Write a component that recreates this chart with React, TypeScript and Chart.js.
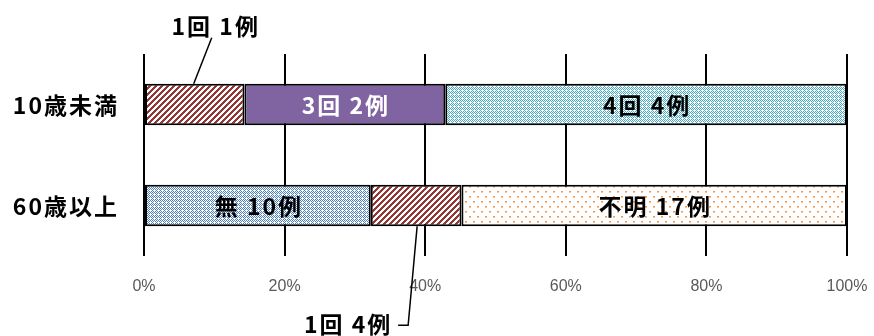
import React, { useEffect, useRef } from 'react';
import { Chart, registerables } from 'chart.js';

Chart.register(...registerables);

const categories = ['10歳未満', '60歳以上'];
const under10Counts = [1, 2, 4];
const under10Labels = ['1回 1例', '3回 2例', '4回 4例'];
const over60Counts = [10, 4, 17];
const over60Labels = ['無 10例', '1回 4例', '不明 17例'];
const xTickValues = [0, 20, 40, 60, 80, 100];

const RED = '#953735';
const PURPLE = '#8064A2';
const CYAN = '#4BACC6';
const BLUE = '#4F81BD';
const ORANGE = '#F79646';

function pattern(kind: string): CanvasPattern | string {
  const c = document.createElement('canvas');
  const w = kind === 'stripes' ? 6 : 8;
  const h = kind === 'stripes' ? 6 : kind === 'orange' ? 10 : 8;
  c.width = w;
  c.height = h;
  const g = c.getContext('2d');
  if (!g) return '#ccc';
  g.fillStyle = '#ffffff';
  g.fillRect(0, 0, w, h);
  if (kind === 'stripes') {
    g.fillStyle = RED;
    for (let x = 0; x < w; x++)
      for (let y = 0; y < h; y++) if ((x + y) % 6 < 3) g.fillRect(x, y, 1, 1);
  } else if (kind === 'cyan' || kind === 'blue') {
    g.fillStyle = kind === 'cyan' ? CYAN : BLUE;
    for (let x = 0; x < w; x++)
      for (let y = 0; y < h; y++) {
        const on = (x + y) % 2 === 0 && !(x % 4 === 2 && y % 4 === 2);
        if (on) g.fillRect(x, y, 1, 1);
      }
  } else if (kind === 'orange') {
    g.fillStyle = ORANGE;
    g.fillRect(1, 1, 2, 1);
    g.fillRect(5, 6, 2, 1);
    g.globalAlpha = 0.55;
    g.fillRect(1, 2, 2, 1);
    g.fillRect(5, 7, 2, 1);
  }
  const p = g.createPattern(c, 'repeat');
  return p || '#ccc';
}

const pct = (counts: number[]) => {
  const t = counts.reduce((a, b) => a + b, 0);
  return counts.map((v) => (v / t) * 100);
};

const LABEL_FONT = 'bold 23px "Noto Sans CJK JP", sans-serif';
const SPACING = '2px';

const labelPlugin = {
  id: 'segLabels',
  afterDatasetsDraw(chart: any) {
    const ctx = chart.ctx as CanvasRenderingContext2D;
    ctx.save();
    ctx.font = LABEL_FONT;
    (ctx as any).letterSpacing = SPACING;
    ctx.textBaseline = 'middle';
    // category labels
    const yScale = chart.scales.y;
    ctx.fillStyle = '#000';
    ctx.textAlign = 'right';
    chart.data.labels.forEach((lab: string, i: number) => {
      ctx.fillText(lab, yScale.right - 25, yScale.getPixelForValue(i) + 1);
    });
    ctx.textAlign = 'center';
    chart.data.datasets.forEach((ds: any, di: number) => {
      const meta = chart.getDatasetMeta(di);
      meta.data.forEach((bar: any, i: number) => {
        const text = ds.segLabels[i];
        const mode = ds.segModes[i];
        const x = (bar.x + bar.base) / 2;
        const h = bar.height;
        if (mode === 'in') {
          ctx.fillStyle = ds.segTextColors[i];
          ctx.fillText(text, x + 1, bar.y + 1);
        } else if (mode === 'above') {
          const top = bar.y - h / 2;
          ctx.strokeStyle = '#000';
          ctx.lineWidth = 1.5;
          ctx.beginPath();
          ctx.moveTo(x - 1, top);
          ctx.lineTo(x + 17, top - 46);
          ctx.stroke();
          ctx.fillStyle = '#000';
          ctx.fillText(text, x + 21, top - 58);
        } else if (mode === 'below') {
          const bottom = bar.y + h / 2;
          ctx.strokeStyle = '#000';
          ctx.lineWidth = 1.5;
          ctx.beginPath();
          ctx.moveTo(x + 1, bottom);
          ctx.lineTo(x - 8, bottom + 99);
          ctx.lineTo(x - 18, bottom + 99);
          ctx.stroke();
          ctx.fillStyle = '#000';
          ctx.fillText(text, x - 68, bottom + 98);
        }
      });
    });
    ctx.restore();
  },
};

export default function App() {
  const ref = useRef<HTMLCanvasElement | null>(null);
  useEffect(() => {
    if (!ref.current) return;
    const u = pct(under10Counts);
    const o = pct(over60Counts);
    const stripes = pattern('stripes');
    const cyan = pattern('cyan');
    const blue = pattern('blue');
    const orange = pattern('orange');
    const common = {
      borderColor: '#000',
      borderWidth: 2,
      borderSkipped: false,
      categoryPercentage: 0.82,
      barPercentage: 0.5,
    };
    const chart = new Chart(ref.current, {
      type: 'bar',
      data: {
        labels: categories,
        datasets: [
          {
            ...common,
            data: [u[0], o[0]],
            backgroundColor: [stripes, blue],
            segLabels: [under10Labels[0], over60Labels[0]],
            segModes: ['above', 'in'],
            segTextColors: ['#000', '#000'],
          } as any,
          {
            ...common,
            data: [u[1], o[1]],
            backgroundColor: [PURPLE, stripes],
            segLabels: [under10Labels[1], over60Labels[1]],
            segModes: ['in', 'below'],
            segTextColors: ['#fff', '#000'],
          } as any,
          {
            ...common,
            data: [u[2], o[2]],
            backgroundColor: [cyan, orange],
            segLabels: [under10Labels[2], over60Labels[2]],
            segModes: ['in', 'in'],
            segTextColors: ['#000', '#000'],
          } as any,
        ],
      },
      options: {
        indexAxis: 'y',
        responsive: false,
        animation: false,
        layout: { padding: { top: 54, right: 27, left: 0, bottom: 0 } },
        plugins: { legend: { display: false }, tooltip: { enabled: false } },
        scales: {
          x: {
            stacked: true,
            min: 0,
            max: 100,
            afterBuildTicks: (scale: any) => {
              scale.ticks = xTickValues.map((v) => ({ value: v }));
            },
            afterFit: (scale: any) => {
              scale.height = 80;
              scale.paddingRight = 0;
              scale.paddingLeft = 0;
            },
            grid: { color: '#000', lineWidth: 2, drawTicks: false },
            border: { display: false },
            ticks: {
              padding: 21,
              color: '#595959',
              font: { family: '"Liberation Sans", sans-serif', size: 16 },
              callback: (v: any) => v + '%',
            },
          },
          y: {
            stacked: true,
            afterFit: (scale: any) => {
              scale.width = 144;
            },
            grid: { display: false },
            border: { display: false },
            ticks: { display: false },
          },
        },
      } as any,
      plugins: [labelPlugin],
    });
    return () => chart.destroy();
  }, []);
  return (
    <div style={{ position: 'absolute', left: 0, top: 0, width: 874, height: 336, background: '#fff' }}>
      <canvas ref={ref} width={874} height={336} style={{ width: 874, height: 336 }} />
    </div>
  );
}
